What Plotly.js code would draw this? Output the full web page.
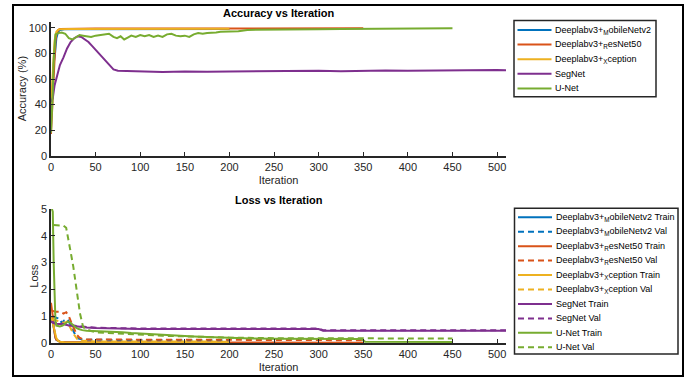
<!DOCTYPE html>
<html>
<head>
<meta charset="utf-8">
<script src="https://cdn.plot.ly/plotly-3.0.1.min.js"></script>
<style>
html,body{margin:0;padding:0;background:#fff;}
#chart{width:699px;height:377px;}
</style>
</head>
<body>
<div id="chart"></div>
<script>
// ---------- Accuracy data ----------
var accMobX = [0,1,2,3,4.5,6,8,10,15,20,30,50,75,100,125,150,175,200];
var accMobY = [30,45,60,72,80,92,97,98.5,99,99,99.2,99,99.2,99,99.2,99.3,99.2,99.3];
var accResX = [0,1,2,3,4,5,6,8,10,20,50,100,150,200,250,300,350];
var accResY = [17,30,45,65,80,90,95,98.5,99.3,99.5,99.6,99.6,99.7,99.7,99.6,99.7,99.7];
var accXcpX = [0,1,2,3,4,5,6,8,10,20,50,100,150,200];
var accXcpY = [40,55,70,82,90,94,97,98.5,99,99.3,99.4,99.4,99.4,99.4];
var accSegX = [0,2,4,6,8,10,14,18,22,26,30,34,38,42,46,50,55,60,65,70,75,100,125,150,175,200,225,250,275,300,325,350,375,400,425,450,475,500,510];
var accSegY = [42,45,55,60,66,71,77,84,89,92,93.5,93,91,89,86,83,79,75,71,67.5,66.5,66,65.5,66,65.7,66,66.2,66,66.3,66.5,66.2,66.5,66.7,66.5,66.8,66.8,67,67.2,67];
var accUnetX = [0,1,2,3,4,5,8,12,16,20,24,28,32,36,40,45,50,55,60,65,70,74,78,82,86,90,95,100,105,110,115,120,125,130,135,140,145,150,155,160,165,170,175,180,185,190,195,200,210,220,230,240,250,275,300,325,350,375,400,425,450];
var accUnetY = [18,30,50,75,90,95,96,96.5,95.5,92,91,93,94.5,94,93.5,93,94,94.5,95,95.5,93,92,93.5,91,92.5,94,93,94.5,93.5,94.5,93,94,93,95,95.5,94,93.5,94,93,95,96,95.5,96,96,96.5,97,97,97.5,97.5,98.5,98.5,98.5,98.8,99,99,99.2,99.3,99.5,99.3,99.5,99.7];

// ---------- Loss data ----------
var lossMobTrX = [0,1,2,3,4,5,6,8,10,15,20,30,50,75,100,125,150,175,200];
var lossMobTrY = [1.0,0.95,0.8,0.55,0.35,0.2,0.12,0.07,0.05,0.04,0.035,0.03,0.03,0.025,0.025,0.02,0.02,0.02,0.02];
var lossMobVaX = [2,5,10,12,15,18,20,22,25,28,30,35,40,50,75,100,125,150,175,200];
var lossMobVaY = [1.0,0.95,0.9,0.75,0.85,0.9,0.8,0.65,0.45,0.25,0.17,0.13,0.12,0.12,0.11,0.12,0.11,0.12,0.11,0.1];
var lossResTrX = [0,1,2,3,4,5,6,8,10,15,20,30,50,100,150,200,250,300,350];
var lossResTrY = [1.5,1.3,1.0,0.6,0.35,0.2,0.12,0.07,0.05,0.04,0.035,0.03,0.025,0.02,0.02,0.015,0.015,0.015,0.01];
var lossResVaX = [2,5,10,14,17,20,23,26,29,32,35,40,50,75,100,150,200,250,300,350];
var lossResVaY = [1.2,1.17,1.17,1.1,1.15,1.0,0.75,0.5,0.3,0.2,0.15,0.13,0.13,0.12,0.12,0.12,0.11,0.11,0.11,0.1];
var lossXcpTrX = [0,1,2,3,4,5,6,8,10,15,20,30,50,100,150,200];
var lossXcpTrY = [0.95,0.9,0.75,0.6,0.5,0.3,0.18,0.08,0.05,0.03,0.03,0.025,0.02,0.02,0.02,0.02];
var lossXcpVaX = [2,5,10,15,18,20,22,25,28,30,35,40,50,75,100,125,150,175,200];
var lossXcpVaY = [0.9,0.85,0.8,0.75,0.8,0.7,0.55,0.35,0.22,0.12,0.08,0.07,0.06,0.06,0.06,0.05,0.06,0.05,0.05];
var lossSegTrX = [0,2,5,10,15,20,25,30,40,50,60,75,100,125,150,200,250,300,305,350,400,450,500,510];
var lossSegTrY = [0.8,0.75,0.72,0.72,0.7,0.65,0.63,0.6,0.58,0.56,0.55,0.53,0.52,0.52,0.52,0.52,0.52,0.52,0.46,0.46,0.46,0.46,0.46,0.46];
var lossSegVaX = [0,5,10,20,30,50,75,100,150,200,250,300,305,350,400,450,500,510];
var lossSegVaY = [0.8,0.75,0.73,0.67,0.63,0.57,0.55,0.54,0.54,0.54,0.54,0.54,0.48,0.48,0.48,0.48,0.48,0.48];
var lossUnetTrX = [1,2,3,4,5,6,8,10,13,16,19,22,25,28,31,35,40,50,60,70,80,90,100,110,120,130,140,150,160,175,200,225,250,275,300,325,348,352,400,450];
var lossUnetTrY = [5.0,4.9,3.0,1.4,0.8,0.65,0.62,0.62,0.65,0.72,0.8,0.75,0.65,0.57,0.52,0.48,0.46,0.45,0.43,0.42,0.4,0.37,0.35,0.33,0.3,0.28,0.27,0.25,0.24,0.22,0.19,0.17,0.16,0.16,0.15,0.15,0.15,0.05,0.04,0.04];
var lossUnetVaX = [3,5,10,14,17,19.5,22,25,28.7,32.5,36,40,45,50,60,75,100,125,150,175,200,250,300,350,400,450];
var lossUnetVaY = [4.4,4.4,4.4,4.38,4.3,3.9,3.4,2.85,2.0,1.1,0.6,0.5,0.45,0.4,0.38,0.35,0.3,0.27,0.25,0.22,0.2,0.18,0.17,0.17,0.17,0.17];

// ---------- Names / ticks ----------
var accNames = ['Deeplabv3+<sub>M</sub>obileNetv2','Deeplabv3+<sub>R</sub>esNet50','Deeplabv3+<sub>X</sub>ception','SegNet','U-Net'];
var lossNames = ['Deeplabv3+<sub>M</sub>obileNetv2 Train','Deeplabv3+<sub>M</sub>obileNetv2 Val',
  'Deeplabv3+<sub>R</sub>esNet50 Train','Deeplabv3+<sub>R</sub>esNet50 Val',
  'Deeplabv3+<sub>X</sub>ception Train','Deeplabv3+<sub>X</sub>ception Val',
  'SegNet Train','SegNet Val','U-Net Train','U-Net Val'];
var xTicks = [0,50,100,150,200,250,300,350,400,450,500];
var accTicks = [0,20,40,60,80,100];
var lossTicks = [0,1,2,3,4,5];

var colors = ['#0072BD','#D95319','#EDB120','#7E2F8E','#77AC30'];
var DASH = '6px,4px';
var W = 699, H = 377;
function px(x){return x/W;}
function py(y){return 1-y/H;}

var accX = [accMobX,accResX,accXcpX,accSegX,accUnetX];
var accY = [accMobY,accResY,accXcpY,accSegY,accUnetY];
var lossX = [lossMobTrX,lossMobVaX,lossResTrX,lossResVaX,lossXcpTrX,lossXcpVaX,lossSegTrX,lossSegVaX,lossUnetTrX,lossUnetVaX];
var lossY = [lossMobTrY,lossMobVaY,lossResTrY,lossResVaY,lossXcpTrY,lossXcpVaY,lossSegTrY,lossSegVaY,lossUnetTrY,lossUnetVaY];

var traces = [];
for (var i=0;i<accX.length;i++){
  traces.push({x:accX[i],y:accY[i],type:'scatter',mode:'lines',xaxis:'x',yaxis:'y',
    line:{color:colors[i],width:2},showlegend:false,hoverinfo:'skip'});
}
for (var j=0;j<lossX.length;j++){
  traces.push({x:lossX[j],y:lossY[j],type:'scatter',mode:'lines',xaxis:'x2',yaxis:'y2',
    line:{color:colors[Math.floor(j/2)],width:2,dash:(j%2===1)?DASH:'solid'},showlegend:false,hoverinfo:'skip'});
}

var FONT = 'Liberation Sans, Arial, Helvetica, sans-serif';
var axCol = '#262626';
function xa(dom){return {domain:dom,range:[0,510],tickvals:xTicks,ticks:'inside',ticklen:4,tickcolor:axCol,tickwidth:1,
  showline:true,linecolor:axCol,linewidth:1.8,showgrid:false,zeroline:false,
  tickfont:{family:FONT,size:11,color:axCol},
  title:{text:'Iteration',font:{family:FONT,size:11,color:axCol},standoff:4},automargin:false};}
function ya(dom,rng,tv,title){return {domain:dom,range:rng,tickvals:tv,ticks:'inside',ticklen:4,tickcolor:axCol,tickwidth:1,
  showline:true,linecolor:axCol,linewidth:1.8,showgrid:false,zeroline:false,
  tickfont:{family:FONT,size:11,color:axCol},
  title:{text:title,font:{family:FONT,size:11,color:axCol},standoff:0},automargin:false};}

var shapes = [], annotations = [];
// outer figure border
shapes.push({type:'rect',xref:'paper',yref:'paper',x0:px(13),x1:px(683),y0:py(376),y1:py(5),line:{color:'#000',width:2}});
// subplot titles
annotations.push({text:'<b>Accuracy vs Iteration</b>',xref:'paper',yref:'paper',x:px(278.5),y:py(13),xanchor:'center',yanchor:'middle',showarrow:false,font:{family:FONT,size:11,color:'#000'}});
annotations.push({text:'<b>Loss vs Iteration</b>',xref:'paper',yref:'paper',x:px(278.5),y:py(200),xanchor:'center',yanchor:'middle',showarrow:false,font:{family:FONT,size:11,color:'#000'}});

function buildLegend(names, colFn, dashFn, box, row0, step){
  shapes.push({type:'rect',xref:'paper',yref:'paper',x0:px(box[0]),x1:px(box[1]),y0:py(box[3]),y1:py(box[2]),
    line:{color:'#262626',width:1.5},fillcolor:'#fff',layer:'above'});
  for (var k=0;k<names.length;k++){
    var yy = row0 + k*step;
    shapes.push({type:'line',xref:'paper',yref:'paper',x0:px(box[0]+3.5),x1:px(box[0]+37.5),y0:py(yy),y1:py(yy),
      line:{color:colFn(k),width:2,dash:dashFn(k)},layer:'above'});
    annotations.push({text:names[k],xref:'paper',yref:'paper',x:px(box[0]+39),y:py(yy),xanchor:'left',yanchor:'middle',
      showarrow:false,font:{family:FONT,size:9,color:'#000'}});
  }
}
buildLegend(accNames,function(k){return colors[k];},function(k){return 'solid';},[514,656,20.5,96.7],30,14.6);
buildLegend(lossNames,function(k){return colors[Math.floor(k/2)];},function(k){return (k%2===1)?DASH:'solid';},[514.5,678,208.3,354],217.3,14.44);

var layout = {
  width:W,height:H,margin:{l:0,r:0,t:0,b:0},paper_bgcolor:'#fff',plot_bgcolor:'#fff',
  showlegend:false,
  xaxis:xa([px(51),px(506)]),
  yaxis:ya([py(155.7),py(21.6)],[0,105],accTicks,'Accuracy (%)'),
  xaxis2:Object.assign(xa([px(51),px(506)]),{anchor:'y2'}),
  yaxis2:Object.assign(ya([py(343),py(209)],[0,5],lossTicks,'Loss'),{anchor:'x2'}),
  shapes:shapes,annotations:annotations,
  font:{family:FONT}
};
layout.xaxis.anchor='y';
layout.yaxis.anchor='x';

Plotly.newPlot('chart',traces,layout,{staticPlot:true,displayModeBar:false});
</script>
</body>
</html>
